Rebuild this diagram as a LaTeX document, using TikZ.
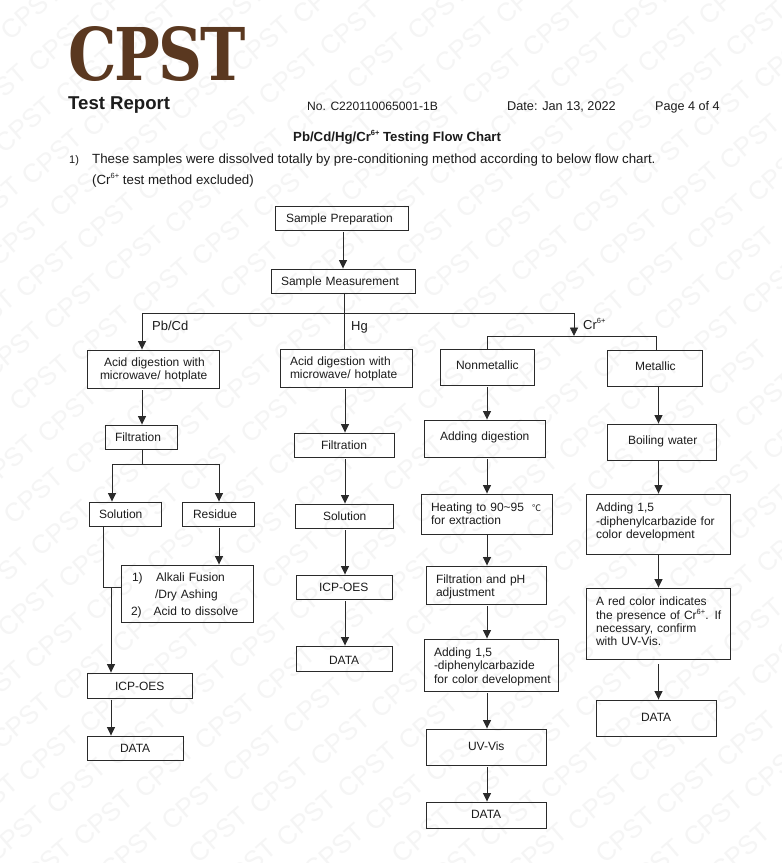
\documentclass[tikz,border=0pt]{standalone}
\usepackage{fontspec}
\usepackage{graphicx}
\usetikzlibrary{arrows.meta,calc}
\setmainfont{Liberation Sans}
\newfontfamily\logofont{DejaVu Serif Bold}
\newfontfamily\cjkfont{Noto Sans CJK SC}
\definecolor{ink}{HTML}{1C1C1C}
\definecolor{logobrown}{HTML}{5A3820}
\definecolor{wmgrey}{HTML}{F5F5F5}
\definecolor{linegrey}{HTML}{2A2A2A}
\newcommand{\crsix}{Cr\raisebox{.42em}{\fontsize{7.5}{8}\selectfont 6+}}
\newcommand{\jl}[2]{\makebox[#1pt][s]{#2}}
\newcommand{\dn}[1]{\rule{0pt}{\dimexpr 9pt+#1pt\relax}}
\newcommand{\up}[1]{\par\vspace*{#1pt}}
\newcommand{\bx}[7]{%
  \pgfmathsetmacro{\bxw}{#4-#2}\pgfmathsetmacro{\bxh}{#5-#3}%
  \pgfmathsetmacro{\bxc}{(#2+#4)/2}\pgfmathsetmacro{\bxm}{(#3+#5)/2}%
  \pgfmathsetmacro{\bxi}{#6-#2}%
  \node[boxnode,minimum height=\bxh pt,text width=\bxw pt] (#1) at (\bxc,\bxm)
    {\leftskip=\bxi pt\relax #7\par};}
\tikzset{
  x=1pt,y=-1pt,
  boxnode/.style={draw=linegrey,line width=.9pt,fill=none,inner xsep=0pt,inner ysep=0pt,align=left,
    font=\fontsize{12}{13.3}\selectfont,text=ink},
  plain/.style={anchor=base west,inner sep=0pt,text=ink,font=\fontsize{12}{14}\selectfont},
  conn/.style={draw=linegrey,line width=.9pt},
  arr/.style={conn,-{Triangle[length=8.5pt,width=8pt]}},
  wm/.style={inner sep=0pt,text=wmgrey,rotate=41,font=\fontsize{26}{26}\selectfont}
}
\begin{document}
\begin{tikzpicture}
\useasboundingbox (0,0) rectangle (782,863);
\fill[white] (0,0) rectangle (782,863);
% watermark
\begin{scope}
\clip (0,0) rectangle (782,863);
\foreach \i in {-30,...,30}{
  \foreach \j in {-12,...,12}{
    \pgfmathsetmacro{\wx}{225+27.3*\i+88*\j}
    \pgfmathsetmacro{\wy}{721.7+32.3*\i-16*\j}
    \pgfmathparse{(\wx>-15)&&(\wx<797)&&(\wy>-15)&&(\wy<878)?1:0}
    \ifnum\pgfmathresult=1
      \node[wm] (wm\i x\j) at (\wx,\wy) {CPST};
    \fi
  }
}
\end{scope}
% header
\node[anchor=north west,inner sep=0pt,text=logobrown] (logo) at (68,26)
  {\resizebox{178pt}{54pt}{\logofont C\kern-.03em P\kern-.03em S\kern-.03em T}};
\node[plain,font=\bfseries\fontsize{18.6}{20}\selectfont] (report) at (68,109) {Test Report};
\node[plain,font=\fontsize{12.1}{14}\selectfont] (no) at (307,110) {No. C220110065001-1B};
\node[plain,font=\fontsize{12.7}{14}\selectfont] (date) at (507,110) {Date: Jan 13, 2022};
\node[plain,font=\fontsize{12.6}{14}\selectfont] (page) at (655,110) {Page 4 of 4};
\node[plain,font=\bfseries\fontsize{13.2}{14}\selectfont] (title) at (293,141) {Pb/Cd/Hg/\crsix{} Testing Flow Chart};
\node[plain,font=\fontsize{11}{12}\selectfont] (num) at (69,163) {1)};
\node[plain,font=\fontsize{13.3}{15}\selectfont] (l1) at (92,163) {These samples were dissolved totally by pre-conditioning method according to below flow chart.};
\node[plain,font=\fontsize{13.3}{15}\selectfont] (l2) at (92,184) {(\crsix{} test method excluded)};
% boxes
\bx{prep}{275}{206}{408}{230}{286}{\dn{2}Sample Preparation}
\bx{meas}{271}{269}{415}{293}{281}{\dn{2}Sample Measurement}
\bx{acidA}{87}{350}{219}{388}{100}{\dn{2}\hspace*{4pt}Acid digestion with\\microwave/ hotplate}
\bx{filtA}{105}{425}{177}{449}{115}{Filtration}
\bx{solA}{89}{502}{161}{526}{99}{Solution}
\bx{resA}{182}{502}{254}{526}{193}{Residue}
\bx{fusA}{121}{565}{253}{622}{131}{\fontsize{12}{17}\selectfont\dn{4}\hspace*{1pt}1)\hspace{13.5pt}Alkali Fusion\\\hspace*{24pt}/Dry Ashing\\2)\hspace{12pt}Acid to dissolve}
\bx{icpA}{87}{673}{192}{698}{115}{\dn{2}ICP-OES}
\bx{dataA}{87}{736}{183}{760}{120}{DATA}
\bx{acidB}{280}{349}{412}{387}{290}{\dn{2}\jl{112}{Acid digestion with}\\microwave/ hotplate}
\bx{filtB}{294}{433}{394}{457}{321}{Filtration}
\bx{solB}{295}{504}{393}{528}{323}{Solution}
\bx{icpB}{296}{575}{392}{599}{319}{ICP-OES}
\bx{dataB}{296}{646}{392}{671}{329}{\dn{2}DATA}
\bx{nonm}{440}{349}{534}{385}{456}{Nonmetallic\up{4}}
\bx{addC}{424.5}{420}{545}{457}{440}{Adding digestion\up{2}}
\bx{heatC}{421}{494}{552}{534}{431}{Heating to 90\textasciitilde95\hspace{8pt}{\cjkfont\fontsize{9}{11}\selectfont ℃}\\for extraction}
\bx{filtC}{426}{566}{546}{604}{436}{\dn{4}\jl{100}{Filtration and pH}\\adjustment}
\bx{dipC}{424}{639}{558}{691}{434}{\dn{3}Adding 1,5\\-diphenylcarbazide\\for color development}
\bx{uvC}{426}{729}{546}{765}{468}{UV-Vis\up{2}}
\bx{dataC}{426}{802}{546}{828}{471}{DATA\up{2}}
\bx{metal}{607}{350}{702}{386}{635}{Metallic\up{4}}
\bx{boil}{607}{424}{716}{460}{628}{Boiling water\up{2}}
\bx{dipD}{586}{494}{730}{554}{596}{Adding 1,5\\-diphenylcarbazide for\\color development\up{4}}
\bx{redD}{586}{588}{730}{659}{596}{\jl{124}{A red color indicates}\\the presence of \crsix{}. If\\necessary, confirm\\with UV-Vis.\up{4}}
\bx{dataD}{596}{700}{716}{736}{641}{DATA\up{2}}
% branch labels
\node[plain,font=\fontsize{13}{15}\selectfont] (lpb) at (152,330) {Pb/Cd};
\node[plain,font=\fontsize{13}{15}\selectfont] (lhg) at (351,330) {Hg};
\node[plain,font=\fontsize{13}{15}\selectfont] (lcr) at (583,329) {\crsix};
% junction coordinates
\coordinate (busL) at (142,313);
\coordinate (busM) at (344,313);
\coordinate (busR) at (574,313);
\coordinate (crbus) at (574,336);
\coordinate (crL) at (487,336);
\coordinate (crR) at (656,336);
\coordinate (splitA) at (142,464);
\coordinate (splitL) at (112,464);
\coordinate (splitR) at (219,464);
\coordinate (jn) at (103,587);
\coordinate (jm) at (111,587);
% connectors
\draw[arr] (prep.south -| 343,0) ++(0,1.5) -- (meas.north -| 343,0);
\draw[conn] (meas.south -| busM) -- (busM);
\draw[conn] (busL) -- (busR);
\draw[arr] (busL) -- (acidA.north -| busL);
\draw[conn] (busM) -- (acidB.north -| busM);
\draw[arr] (busR) -- (crbus);
\draw[conn] (nonm.north -| crL) -- (crL) -- (crR) -- (metal.north -| crR);
\draw[arr] (acidA.south -| busL) ++(0,2) -- (filtA.north -| busL);
\draw[conn] (filtA.south -| splitA) -- (splitA);
\draw[conn] (splitL) -- (splitR);
\draw[arr] (splitL) -- (solA.north -| splitL);
\draw[arr] (splitR) -- (resA.north -| splitR);
\draw[arr] (resA.south -| splitR) ++(0,1.5) -- (fusA.north -| splitR);
\draw[conn] (solA.south -| jn) -- (jn) -- (fusA.west |- jn);
\draw[arr] (jm) -- (icpA.north -| jm);
\draw[arr] (icpA.south -| jm) ++(0,1.5) -- (dataA.north -| jm);
\draw[arr] (acidB.south -| 345,0) ++(0,2) -- (filtB.north -| 345,0);
\draw[arr] (filtB.south -| 345,0) ++(0,2) -- (solB.north -| 345,0);
\draw[arr] (solB.south -| 345,0) ++(0,2) -- (icpB.north -| 345,0);
\draw[arr] (icpB.south -| 345,0) ++(0,2) -- (dataB.north -| 345,0);
\draw[arr] (nonm.south -| crL) ++(0,2) -- (addC.north -| crL);
\draw[arr] (addC.south -| crL) ++(0,2) -- (heatC.north -| crL);
\draw[arr] (heatC.south -| crL) -- (filtC.north -| crL);
\draw[arr] (filtC.south -| crL) ++(0,2) -- (dipC.north -| crL);
\draw[arr] (dipC.south -| crL) ++(0,2) -- (uvC.north -| crL);
\draw[arr] (uvC.south -| crL) ++(0,2) -- (dataC.north -| crL);
\draw[arr] (metal.south -| 658.5,0) -- (boil.north -| 658.5,0);
\draw[arr] (boil.south -| 658.5,0) -- (dipD.north -| 658.5,0);
\draw[arr] (dipD.south -| 658.5,0) -- (redD.north -| 658.5,0);
\draw[arr] (redD.south -| 658.5,0) ++(0,5) -- (dataD.north -| 658.5,0);
\end{tikzpicture}
\end{document}
